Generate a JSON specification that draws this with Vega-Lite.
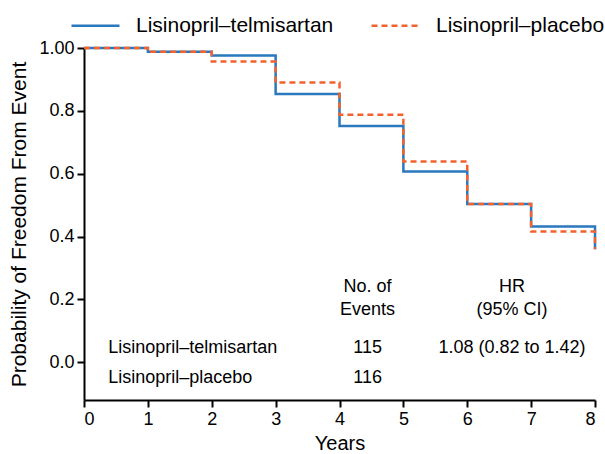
{
  "$schema": "https://vega.github.io/schema/vega-lite/v6.json",
  "width": 511,
  "height": 352,
  "autosize": {"type": "none"},
  "padding": {"left": 84, "top": 48, "right": 10, "bottom": 54},
  "config": {
    "font": "Liberation Sans",
    "view": {"stroke": null},
    "axis": {"grid": false, "domainColor": "black", "tickColor": "black", "labelColor": "black", "titleColor": "black", "domainWidth": 2, "tickWidth": 2, "tickSize": 7, "labelFontSize": 18, "titleFontSize": 20, "titleFontWeight": "normal", "labelFont": "Liberation Sans", "titleFont": "Liberation Sans"}
  },
  "datasets": {
    "curves": [
      {"group": "Lisinopril–telmisartan", "seq": 0, "year": 0, "p": 1.0},
      {"group": "Lisinopril–telmisartan", "seq": 1, "year": 1, "p": 0.988},
      {"group": "Lisinopril–telmisartan", "seq": 2, "year": 2, "p": 0.976},
      {"group": "Lisinopril–telmisartan", "seq": 3, "year": 3, "p": 0.854},
      {"group": "Lisinopril–telmisartan", "seq": 4, "year": 4, "p": 0.752},
      {"group": "Lisinopril–telmisartan", "seq": 5, "year": 5, "p": 0.607},
      {"group": "Lisinopril–telmisartan", "seq": 6, "year": 6, "p": 0.504},
      {"group": "Lisinopril–telmisartan", "seq": 7, "year": 7, "p": 0.432},
      {"group": "Lisinopril–telmisartan", "seq": 8, "year": 8, "p": 0.432},
      {"group": "Lisinopril–telmisartan", "seq": 9, "year": 8, "p": 0.36},
      {"group": "Lisinopril–placebo", "seq": 0, "year": 0, "p": 1.0},
      {"group": "Lisinopril–placebo", "seq": 1, "year": 1, "p": 0.988},
      {"group": "Lisinopril–placebo", "seq": 2, "year": 2, "p": 0.957},
      {"group": "Lisinopril–placebo", "seq": 3, "year": 3, "p": 0.89},
      {"group": "Lisinopril–placebo", "seq": 4, "year": 4, "p": 0.788},
      {"group": "Lisinopril–placebo", "seq": 5, "year": 5, "p": 0.639},
      {"group": "Lisinopril–placebo", "seq": 6, "year": 6, "p": 0.504},
      {"group": "Lisinopril–placebo", "seq": 7, "year": 7, "p": 0.416},
      {"group": "Lisinopril–placebo", "seq": 8, "year": 8, "p": 0.416},
      {"group": "Lisinopril–placebo", "seq": 9, "year": 8, "p": 0.36}
    ],
    "rowlabels": [
      {"x": 0.38, "y": 0.046, "label": "Lisinopril–telmisartan"},
      {"x": 0.38, "y": -0.05, "label": "Lisinopril–placebo"}
    ],
    "cells": [
      {"x": 4.44, "y": 0.24, "label": "No. of"},
      {"x": 4.44, "y": 0.167, "label": "Events"},
      {"x": 6.7, "y": 0.24, "label": "HR"},
      {"x": 6.7, "y": 0.167, "label": "(95% CI)"},
      {"x": 4.44, "y": 0.046, "label": "115"},
      {"x": 6.7, "y": 0.046, "label": "1.08 (0.82 to 1.42)"},
      {"x": 4.44, "y": -0.05, "label": "116"}
    ]
  },
  "layer": [
    {
      "data": {"name": "curves"},
      "mark": {"type": "line", "interpolate": "step-after", "strokeWidth": 2.5},
      "encoding": {
        "x": {"field": "year", "type": "quantitative", "scale": {"domain": [0, 8], "nice": false, "zero": false},
              "axis": {"values": [0,1,2,3,4,5,6,7,8], "format": "d", "title": "Years", "labelPadding": 3, "titlePadding": 5}},
        "y": {"field": "p", "type": "quantitative", "scale": {"domain": [-0.12, 1.0], "nice": false, "zero": false},
              "axis": {"values": [0, 0.2, 0.4, 0.6, 0.8, 1.0], "labelExpr": "datum.value == 1 ? '1.00' : format(datum.value, '.1f')", "title": "Probability of Freedom From Event", "titleFontSize": 21, "labelPadding": 3, "titlePadding": 9}},
        "color": {"field": "group", "type": "nominal",
                  "scale": {"domain": ["Lisinopril–telmisartan", "Lisinopril–placebo"], "range": ["#2a78bd", "#f2622e"]},
                  "legend": {"orient": "none", "legendX": -14, "legendY": -48, "direction": "horizontal", "title": null,
                             "symbolType": "stroke", "symbolSize": 2304, "symbolStrokeWidth": 2.5, "labelFontSize": 21, "labelColor": "black", "labelFont": "Liberation Sans", "labelOffset": 15, "columnPadding": 32, "labelLimit": 300}},
        "strokeDash": {"field": "group", "type": "nominal",
                       "scale": {"domain": ["Lisinopril–telmisartan", "Lisinopril–placebo"], "range": [[1, 0], [6, 4]]},
                       "legend": null},
        "order": {"field": "seq", "type": "quantitative"}
      }
    },
    {
      "data": {"name": "rowlabels"},
      "mark": {"type": "text", "align": "left", "baseline": "middle", "fontSize": 18, "color": "black"},
      "encoding": {
        "x": {"field": "x", "type": "quantitative"},
        "y": {"field": "y", "type": "quantitative"},
        "text": {"field": "label"}
      }
    },
    {
      "data": {"name": "cells"},
      "mark": {"type": "text", "align": "center", "baseline": "middle", "fontSize": 18, "color": "black"},
      "encoding": {
        "x": {"field": "x", "type": "quantitative"},
        "y": {"field": "y", "type": "quantitative"},
        "text": {"field": "label"}
      }
    }
  ]
}
